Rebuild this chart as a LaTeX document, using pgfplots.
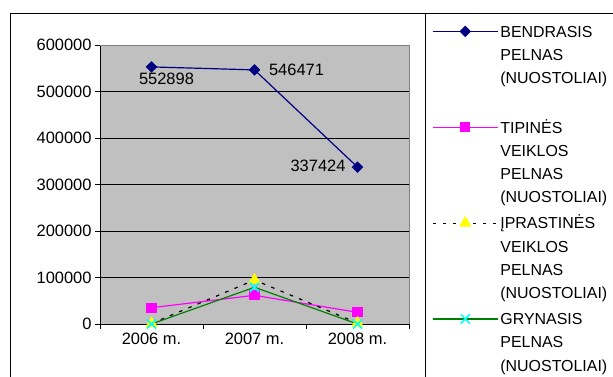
\documentclass[border=0pt]{standalone}
\usepackage{fontspec}
\setmainfont{Liberation Sans}
\usepackage{pgfplots}
\pgfplotsset{compat=1.18}
\definecolor{navyb}{HTML}{000080}
\definecolor{mag}{HTML}{FF00FF}
\definecolor{grn}{HTML}{008000}
\definecolor{plotgray}{HTML}{C0C0C0}
\definecolor{bordergray}{HTML}{808080}
\definecolor{cyanx}{HTML}{00FFFF}
\definecolor{yel}{HTML}{FFFF00}
\newcommand{\cf}{\fontsize{16.5}{23}\selectfont}
\newcommand{\lf}{\fontsize{16}{23.3}\selectfont}
\newcommand{\lgt}[4]{\vbox{\hbox{\strut #1}\hbox{\strut #2}\hbox{\strut #3}\hbox{\strut #4}}}
\pgfplotstableread{
x y xs ys
0 552898 15 -12
1 546471 42 0
2 337424 -39.5 1
}\bendrasis
\pgfplotstableread{
x y
0 35000
1 61700
2 25100
}\tipines
\pgfplotstableread{
x y
0 1000
1 94600
2 2000
}\iprastines
\pgfplotstableread{
x y
0 0
1 79000
2 0
}\grynasis
\begin{document}
\begin{tikzpicture}[x=1bp,y=1bp]
\useasboundingbox (0,0) rectangle (613,376);
\draw[black, line width=0.8bp] (10,-2) -- (10,363) -- (615,363);
\draw[black, line width=0.8bp] (425,-2) -- (425,363);
\begin{axis}[
  at={(100bp,52bp)}, anchor=south west,
  scale only axis, width=309bp, height=279bp,
  xmin=-0.5, xmax=2.5, ymin=0, ymax=600000,
  axis x line*=bottom, axis y line*=left,
  axis line style={black, line width=0.8bp},
  axis background/.style={fill=plotgray},
  xtick={0,1,2}, xticklabels={2006 m.,2007 m.,2008 m.},
  minor xtick={-0.5,0.5,1.5,2.5},
  major x tick style={draw=none},
  ytick={0,100000,...,600000},
  scaled y ticks=false,
  /pgf/number format/assume math mode=true,
  yticklabel style={/pgf/number format/fixed, /pgf/number format/1000 sep={}},
  tick label style={font=\cf},
  tick align=outside,
  major tick length=5bp, minor tick length=5bp,
  tick style={black, line width=0.8bp},
  ymajorgrids, grid style={black, line width=0.8bp},
  clip=false,
  legend style={at={(axis description cs:1.0744,1.0943)}, anchor=north west,
    draw=none, fill=none, inner sep=0pt, row sep=4.5bp, font=\lf,
    cells={anchor=base west, inner xsep=5.5bp, inner ysep=0pt}},
  legend image code/.code={\draw[mark repeat=2,mark phase=2] plot coordinates {(0bp,75.4bp) (32.5bp,75.4bp) (65bp,75.4bp)};},
  after end axis/.code={\draw[bordergray, line width=0.8bp] (rel axis cs:0,1) -- (rel axis cs:1,1) -- (rel axis cs:1,0);},
]
\addplot[navyb, line width=1.2bp, mark=square*, mark size=3.5bp, mark options={rotate=45, fill=navyb, draw=navyb},
  nodes near coords, point meta=explicit,
  visualization depends on={\thisrow{xs} \as \xs},
  visualization depends on={\thisrow{ys} \as \ys},
  every node near coord/.append style={font=\cf, black, anchor=center, xshift=\xs bp, yshift=\ys bp,
    /pgf/number format/fixed, /pgf/number format/1000 sep={}}]
  table[x=x, y=y, meta=y] {\bendrasis};
\addlegendentry{\lgt{BENDRASIS}{PELNAS}{(NUOSTOLIAI)}{}}
\addplot[mag, line width=1.2bp, mark=square*, mark size=4.5bp, mark options={fill=mag, draw=mag}]
  table[x=x, y=y] {\tipines};
\addlegendentry{\lgt{TIPINĖS}{VEIKLOS}{PELNAS}{(NUOSTOLIAI)}}
\addplot[black, line width=1.2bp, dash pattern=on 3.5bp off 6.5bp, mark=triangle*, mark size=6bp, mark options={solid, fill=yel, draw=yel}]
  table[x=x, y=y] {\iprastines};
\addlegendentry{\lgt{ĮPRASTINĖS}{VEIKLOS}{PELNAS}{(NUOSTOLIAI)}}
\addplot[grn, line width=1.2bp, mark=x, mark size=6.5bp, mark options={draw=cyanx, line width=1.5bp}]
  table[x=x, y=y] {\grynasis};
\addlegendentry{\lgt{GRYNASIS}{PELNAS}{(NUOSTOLIAI)}{}}
\end{axis}
\end{tikzpicture}
\end{document}
